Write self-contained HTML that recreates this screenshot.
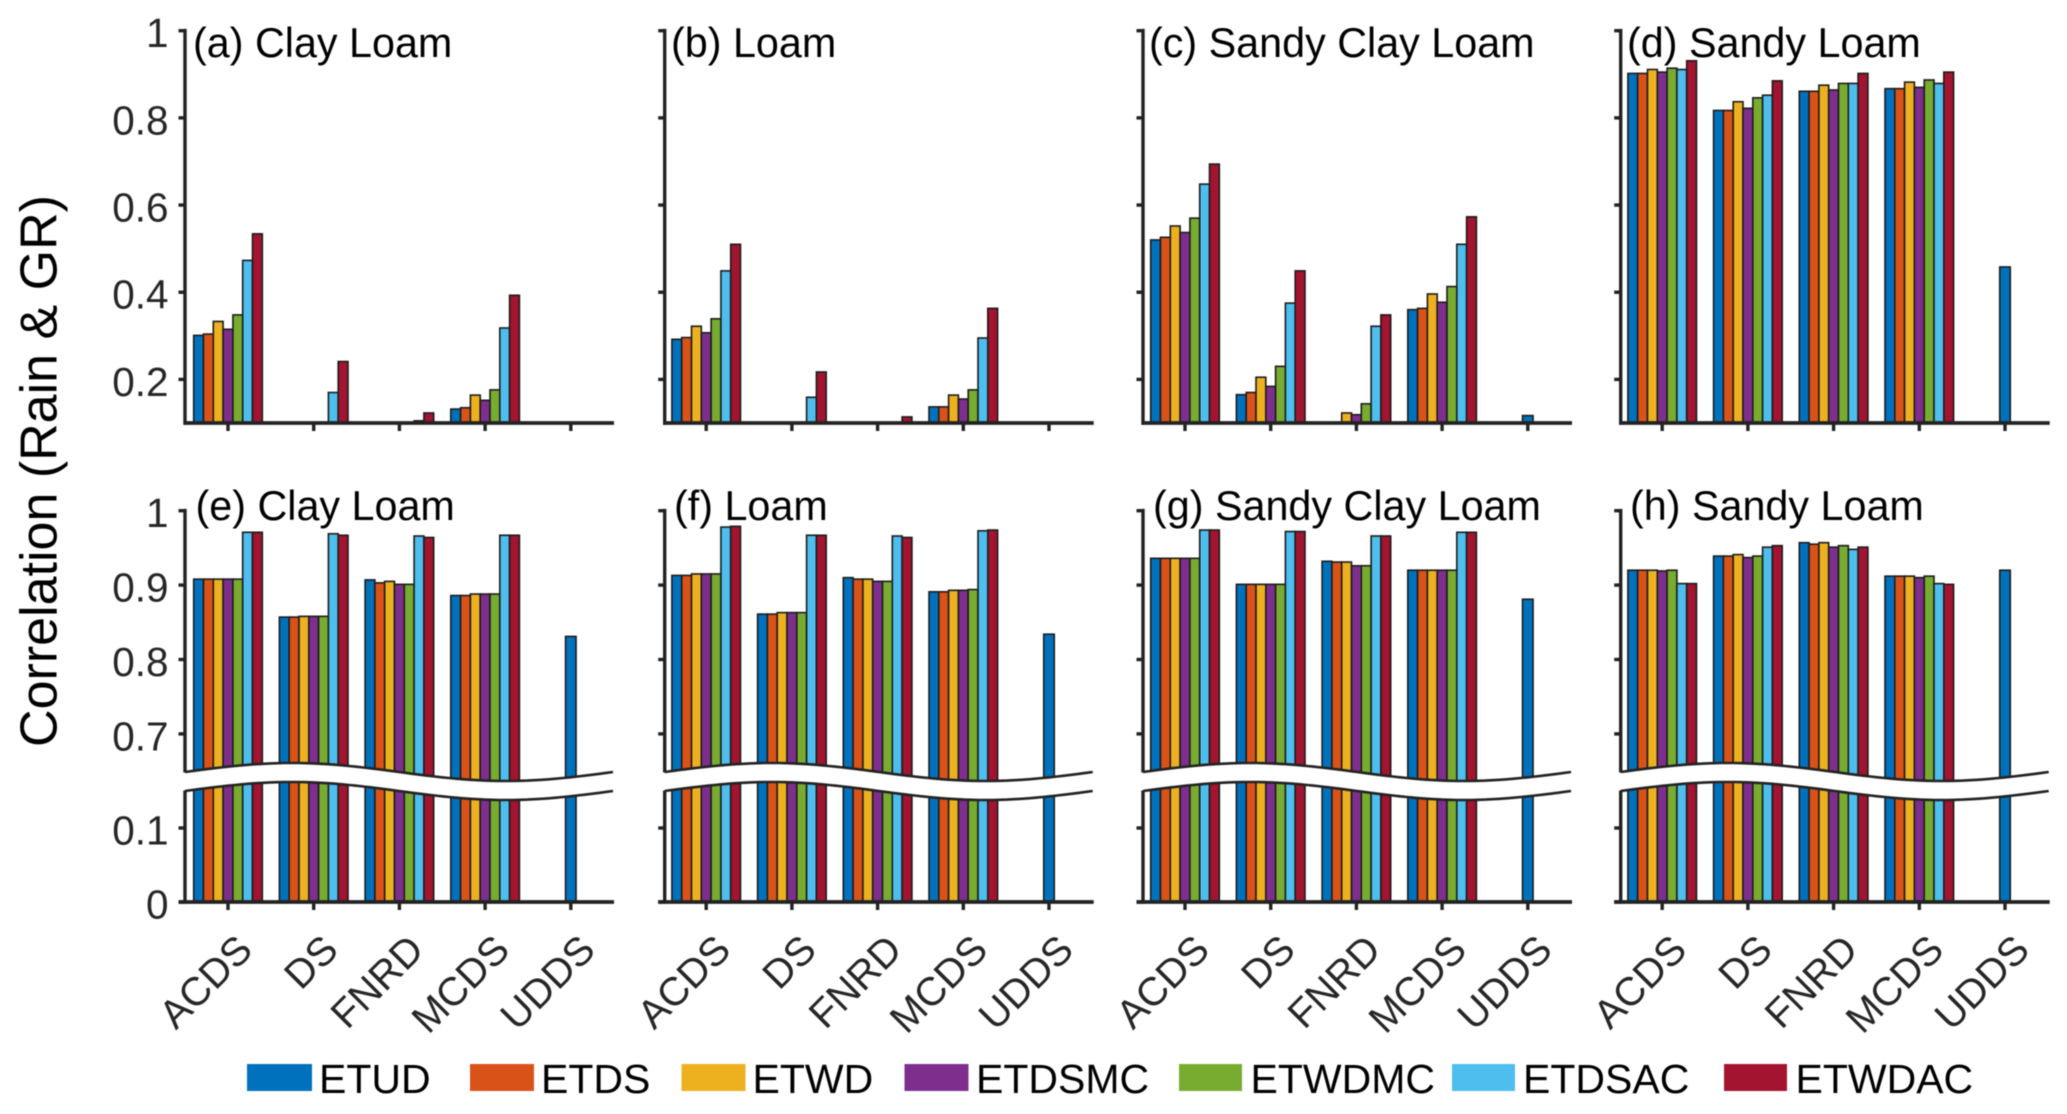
<!DOCTYPE html>
<html lang="en">
<head>
<meta charset="utf-8">
<title>Correlation (Rain &amp; GR) by soil type</title>
<style>
html,body{margin:0;padding:0;background:#fff;width:2067px;height:1114px;overflow:hidden}
svg{display:block;filter:blur(0.4px)}
text{font-family:"Liberation Sans",sans-serif}
.panel-title{font-size:41.3px;fill:#000}
.legend-label{font-size:41px;fill:#000}
</style>
</head>
<body>
<svg id="chart" width="2067" height="1114" viewBox="0 0 2067 1114" xmlns="http://www.w3.org/2000/svg">
<rect width="2067" height="1114" fill="#fff"/>
<g id="plots"></g>
<text transform="translate(56.5,471) rotate(-90)" text-anchor="middle" font-size="52" fill="#000">Correlation (Rain &amp; GR)</text>
<text class="panel-title" x="193" y="57">(a) Clay Loam</text>
<text class="panel-title" x="671" y="57">(b) Loam</text>
<text class="panel-title" x="1149" y="57">(c) Sandy Clay Loam</text>
<text class="panel-title" x="1627" y="57">(d) Sandy Loam</text>
<text class="panel-title" x="195.5" y="520">(e) Clay Loam</text>
<text class="panel-title" x="674" y="520">(f) Loam</text>
<text class="panel-title" x="1153" y="520">(g) Sandy Clay Loam</text>
<text class="panel-title" x="1630" y="520">(h) Sandy Loam</text>
<g>
<g><rect x="247" y="1064" width="65" height="27" fill="#0072BD"/><text class="legend-label" x="319" y="1093">ETUD</text></g>
<g><rect x="470" y="1064" width="64" height="27" fill="#D95319"/><text class="legend-label" x="541" y="1093">ETDS</text></g>
<g><rect x="681.5" y="1064" width="64" height="27" fill="#EDB120"/><text class="legend-label" x="752.5" y="1093">ETWD</text></g>
<g><rect x="904.5" y="1064" width="64" height="27" fill="#7E2F8E"/><text class="legend-label" x="976" y="1093">ETDSMC</text></g>
<g><rect x="1179" y="1064" width="63" height="27" fill="#77AC30"/><text class="legend-label" x="1250.5" y="1093">ETWDMC</text></g>
<g><rect x="1452" y="1064" width="63" height="27" fill="#4DBEEE"/><text class="legend-label" x="1523" y="1093">ETDSAC</text></g>
<g><rect x="1724" y="1064" width="63" height="27" fill="#A2142F"/><text class="legend-label" x="1795.5" y="1093">ETWDAC</text></g>
</g>
</svg>
<script>
// Chart data: each panel lists ACDS, DS, FNRD, MCDS, UDDS; each group runs ETUD..ETWDAC.
// null = value below the visible axis. UDDS has one series only.
const categories = ['ACDS', 'DS', 'FNRD', 'MCDS', 'UDDS'];
const seriesNames = ['ETUD', 'ETDS', 'ETWD', 'ETDSMC', 'ETWDMC', 'ETDSAC', 'ETWDAC'];
const seriesColors = ['#0072BD', '#D95319', '#EDB120', '#7E2F8E', '#77AC30', '#4DBEEE', '#A2142F'];
const upperTicks = [0.2, 0.4, 0.6, 0.8, 1];
const lowerTicks = [0, 0.1, 0.7, 0.8, 0.9, 1];

const valuesA = [
  [0.301, 0.304, 0.333, 0.315, 0.348, 0.473, 0.534],
  [null, null, null, null, null, 0.170, 0.241],
  [null, null, null, null, null, 0.105, 0.123],
  [0.132, 0.135, 0.164, 0.152, 0.176, 0.318, 0.393],
  [null]
];
const valuesB = [
  [0.292, 0.296, 0.322, 0.307, 0.339, 0.449, 0.510],
  [null, null, null, null, null, 0.159, 0.217],
  [null, null, null, null, null, null, 0.114],
  [0.137, 0.137, 0.164, 0.155, 0.176, 0.295, 0.363],
  [null]
];
const valuesC = [
  [0.520, 0.526, 0.552, 0.537, 0.570, 0.648, 0.694],
  [0.165, 0.170, 0.205, 0.184, 0.230, 0.375, 0.449],
  [null, null, 0.123, 0.119, 0.144, 0.322, 0.348],
  [0.360, 0.363, 0.396, 0.377, 0.413, 0.510, 0.573],
  [0.117]
];
const valuesD = [
  [0.902, 0.902, 0.911, 0.905, 0.914, 0.911, 0.931],
  [0.817, 0.817, 0.837, 0.822, 0.846, 0.852, 0.885],
  [0.861, 0.861, 0.875, 0.864, 0.879, 0.879, 0.902],
  [0.867, 0.867, 0.882, 0.870, 0.887, 0.879, 0.905],
  [0.458]
];
const valuesE = [
  [0.908, 0.908, 0.908, 0.908, 0.908, 0.971, 0.971],
  [0.857, 0.857, 0.858, 0.858, 0.858, 0.969, 0.967],
  [0.907, 0.903, 0.905, 0.901, 0.901, 0.966, 0.964],
  [0.886, 0.886, 0.888, 0.888, 0.888, 0.967, 0.967],
  [0.831]
];
const valuesF = [
  [0.913, 0.913, 0.915, 0.915, 0.915, 0.978, 0.979],
  [0.861, 0.861, 0.863, 0.863, 0.863, 0.967, 0.967],
  [0.910, 0.908, 0.908, 0.905, 0.905, 0.966, 0.964],
  [0.891, 0.891, 0.893, 0.893, 0.894, 0.973, 0.974],
  [0.834]
];
const valuesG = [
  [0.936, 0.936, 0.936, 0.936, 0.936, 0.974, 0.974],
  [0.901, 0.901, 0.901, 0.901, 0.901, 0.972, 0.972],
  [0.932, 0.931, 0.931, 0.926, 0.926, 0.966, 0.966],
  [0.920, 0.920, 0.920, 0.920, 0.920, 0.971, 0.971],
  [0.881]
];
const valuesH = [
  [0.920, 0.920, 0.920, 0.919, 0.920, 0.902, 0.902],
  [0.939, 0.939, 0.941, 0.937, 0.939, 0.951, 0.953],
  [0.957, 0.955, 0.957, 0.951, 0.953, 0.948, 0.951],
  [0.912, 0.912, 0.912, 0.910, 0.912, 0.902, 0.901],
  [0.920]
];

const NS = 'http://www.w3.org/2000/svg';
const root = document.getElementById('plots');
const AXIS = '#222';
const BAR_W = 9.8;
const PANEL_W = 428;

function mk(tag, attrs, parent) {
  const el = document.createElementNS(NS, tag);
  for (const k in attrs) el.setAttribute(k, attrs[k]);
  parent.appendChild(el);
  return el;
}

function yUpper(v) { return 423 - (v - 0.1) / 0.9 * 392.3; }
function yLower(v) {
  if (v <= 0.1) return 902 - v * 740;
  if (v >= 0.7) return 510.7 + (1 - v) * 744;
  return 828 + (v - 0.1) / 0.6 * (733.9 - 828);
}
function xTick(x0, off, i) { return x0 + off + 85.7 * i; }

function drawBars(g, x0, off, values, yFn, baseY) {
  values.forEach(function (group, c) {
    const center = xTick(x0, off, c);
    const n = group.length;
    group.forEach(function (v, s) {
      if (v === null) return;
      const w = n === 1 ? 10.5 : BAR_W;
      const left = center + (s - (n - 1) / 2) * BAR_W - w / 2;
      const top = yFn(v);
      const bar = mk('rect', {
        x: left.toFixed(2), y: top.toFixed(2), width: w,
        height: (baseY - top).toFixed(2),
        fill: seriesColors[s], stroke: '#1c1c1c', 'stroke-width': 1.6
      }, g);
      
      
    });
  });
}

function drawAxes(g, x0, off, yFn, baseY, topY, ticks, showLabels, leftExtend) {
  const yAxis = mk('line', { x1: x0, x2: x0, y1: topY - 1.8, y2: baseY + 1.8, stroke: AXIS, 'stroke-width': 3.4 }, g);
  
  
  const xAxis = mk('line', { x1: x0 - leftExtend, x2: x0 + PANEL_W + 1, y1: baseY, y2: baseY, stroke: AXIS, 'stroke-width': 3.8 }, g);
  
  
  ticks.forEach(function (t) {
    const y = yFn(t);
    const tick = mk('line', { x1: x0 - 6.5, x2: x0, y1: y, y2: y, stroke: AXIS, 'stroke-width': 3.4 }, g);
    
    
    if (showLabels) {
      const lab = mk('text', { x: 168.5, y: y + 16.5, 'text-anchor': 'end', 'font-size': 40.5, fill: '#262626' }, g);
      
      
      lab.textContent = String(t);
    }
  });
  categories.forEach(function (c, i) {
    const x = xTick(x0, off, i);
    const tick = mk('line', { x1: x, x2: x, y1: baseY, y2: baseY + 8, stroke: AXIS, 'stroke-width': 3.4 }, g);
    
    
  });
}

function wavePath(x0, yBase) {
  let d = '';
  const steps = 60;
  for (let k = 0; k <= steps; k++) {
    const t = k / steps;
    const x = x0 + t * PANEL_W;
    const y = yBase - 9 * Math.sin(2 * Math.PI * t);
    d += (k ? 'L' : 'M') + x.toFixed(1) + ' ' + y.toFixed(1);
  }
  return d;
}

function drawBreak(g, x0) {
  const topEdge = wavePath(x0, 772);
  const botEdge = wavePath(x0, 791);
  const backPts = botEdge.slice(1).split('L').reverse().join('L');
  const band = mk('path', { d: topEdge + 'L' + backPts + 'Z', fill: '#fff', stroke: 'none' }, g);
  
  
  const cover = mk('rect', { x: x0 - 2.2, y: 772.5, width: 4.4, height: 18, fill: '#fff' }, g);
  
  
  const l1 = mk('path', { d: topEdge, fill: 'none', stroke: AXIS, 'stroke-width': 2.6 }, g);
  
  
  const l2 = mk('path', { d: botEdge, fill: 'none', stroke: AXIS, 'stroke-width': 2.6 }, g);
  
  
}

function drawCategoryLabels(g, x0, off) {
  categories.forEach(function (c, i) {
    const x = xTick(x0, off, i) + 26.5;
    const lab = mk('text', {
      transform: 'translate(' + x.toFixed(1) + ',952) rotate(-45)',
      'text-anchor': 'end', 'font-size': 40, fill: '#262626'
    }, g);
    
    
    lab.textContent = c;
  });
}

const upperPanels = [[185, 43, valuesA, 'a'], [664.7, 41.5, valuesB, 'b'], [1143, 42, valuesC, 'c'], [1620.7, 41.5, valuesD, 'd']];
const lowerPanels = [[185, 43, valuesE, 'e'], [664.7, 41.5, valuesF, 'f'], [1143, 42, valuesG, 'g'], [1620.7, 41.5, valuesH, 'h']];

upperPanels.forEach(function (p, idx) {
  const g = mk('g', {}, root);
  
  
  drawBars(g, p[0], p[1], p[2], yUpper, 423);
  drawAxes(g, p[0], p[1], yUpper, 423, 30.7, upperTicks, idx === 0, 1.5);
});

lowerPanels.forEach(function (p, idx) {
  const g = mk('g', {}, root);
  
  
  drawBars(g, p[0], p[1], p[2], yLower, 902);
  drawAxes(g, p[0], p[1], yLower, 902, 510.7, lowerTicks, idx === 0, 6.5);
  drawBreak(g, p[0]);
  drawCategoryLabels(g, p[0], p[1]);
});
</script>
</body>
</html>
